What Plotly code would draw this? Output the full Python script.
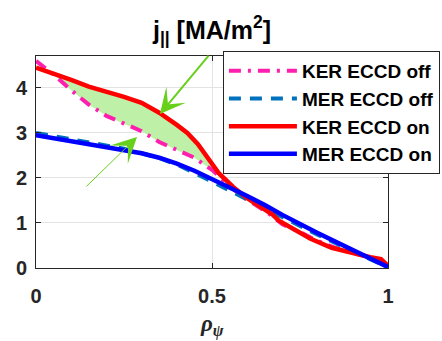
import plotly.graph_objects as go

# ---- data ----
rho_ker_on = [0.0, 0.05, 0.1, 0.15, 0.21, 0.25, 0.3, 0.35, 0.4, 0.43, 0.46, 0.49, 0.52, 0.56,
              0.6, 0.64, 0.67, 0.69, 0.72, 0.78, 0.84, 0.9, 0.95, 0.98, 1.0]
j_ker_on = [4.45, 4.32, 4.18, 4.03, 3.9, 3.8, 3.67, 3.45, 3.18, 3.0, 2.75, 2.42, 2.1, 1.8,
            1.55, 1.35, 1.2, 1.05, 0.92, 0.65, 0.45, 0.33, 0.24, 0.2, 0.05]

rho_ker_off = [0.0, 0.05, 0.1, 0.15, 0.2, 0.25, 0.3, 0.35, 0.4, 0.45, 0.5, 0.54, 0.58, 0.62,
               0.66, 0.7, 0.75, 0.8, 0.85, 0.9, 0.95, 0.98, 1.0]
j_ker_off = [4.6, 4.3, 3.95, 3.63, 3.38, 3.2, 3.04, 2.8, 2.62, 2.45, 2.18, 1.9, 1.62, 1.42,
             1.22, 0.97, 0.8, 0.6, 0.45, 0.33, 0.24, 0.18, 0.05]

rho_mer = [0.0, 0.1, 0.2, 0.25, 0.3, 0.35, 0.4, 0.45, 0.5, 0.55, 0.6, 0.65, 0.7, 0.8, 0.9, 1.0]
j_mer_on = [2.95, 2.82, 2.7, 2.64, 2.55, 2.45, 2.32, 2.16, 1.98, 1.8, 1.6, 1.4, 1.18, 0.78, 0.39, 0.02]
j_mer_off = [3.0, 2.86, 2.72, 2.65, 2.55, 2.44, 2.3, 2.12, 1.92, 1.72, 1.52, 1.33, 1.12, 0.74, 0.37, 0.02]

names = ["KER ECCD off", "MER ECCD off", "KER ECCD on", "MER ECCD on"]
fill_lo, fill_hi = 0.04, 0.56

x_ticks = [0, 0.5, 1]
x_labels = ["0", "0.5", "1"]
y_ticks = [0, 1, 2, 3, 4]

FONT = "Liberation Sans, Arial, sans-serif"
GREEN = "#66d01a"

fig = go.Figure()

# shaded region between KER on and KER off
fx_top = [r for r in rho_ker_on if fill_lo <= r <= fill_hi]
fy_top = [v for r, v in zip(rho_ker_on, j_ker_on) if fill_lo <= r <= fill_hi]
fx_bot = [r for r in rho_ker_off if fill_lo <= r <= fill_hi]
fy_bot = [v for r, v in zip(rho_ker_off, j_ker_off) if fill_lo <= r <= fill_hi]
fig.add_trace(go.Scatter(x=fx_top + fx_bot[::-1], y=fy_top + fy_bot[::-1],
                         fill="toself", fillcolor="#bff0a8", line=dict(width=0),
                         mode="lines", showlegend=False, hoverinfo="skip"))

fig.add_trace(go.Scatter(x=rho_ker_off, y=j_ker_off, name=names[0], mode="lines",
                         legendgroup="a",
                         line=dict(color="#ff1fae", width=4, dash="12px,7px,3px,7px")))
fig.add_trace(go.Scatter(x=rho_mer, y=j_mer_off, name=names[1], mode="lines",
                         legendgroup="b",
                         line=dict(color="#0072bd", width=4, dash="12px,9px")))
fig.add_trace(go.Scatter(x=rho_ker_on, y=j_ker_on, name=names[2], mode="lines",
                         legendgroup="c",
                         line=dict(color="#ff0000", width=4.5)))
fig.add_trace(go.Scatter(x=rho_mer, y=j_mer_on, name=names[3], mode="lines",
                         legendgroup="d",
                         line=dict(color="#0000ff", width=4.5)))

# arrows
fig.add_annotation(x=0.352, y=3.42, ax=0.494, ay=4.75, xref="x", yref="y", axref="x", ayref="y",
                   showarrow=True, arrowhead=3, arrowwidth=2, arrowsize=2.1,
                   arrowcolor=GREEN, text="")
fig.add_annotation(x=0.287, y=2.91, ax=0.139, ay=1.78, xref="x", yref="y", axref="x", ayref="y",
                   showarrow=True, arrowhead=3, arrowwidth=1, arrowsize=4.2,
                   arrowcolor=GREEN, text="")

# x-axis title
fig.add_annotation(x=0.5, y=-0.27, xref="paper", yref="paper", showarrow=False,
                   text="<b><i>ρ<sub>ψ</sub></i></b>", yanchor="middle",
                   font=dict(family="Liberation Serif, Times New Roman, serif", size=23, color="#262626"))

axis_common = dict(showline=True, linecolor="#262626", linewidth=1, mirror="allticks",
                   ticks="inside", ticklen=5, tickcolor="#262626",
                   showgrid=True, gridcolor="#e3e3e3", gridwidth=1, zeroline=False,
                   tickfont=dict(family=FONT, size=20, color="#262626", weight="bold"))

fig.update_xaxes(range=[0, 1], tickvals=x_ticks, ticktext=x_labels, ticklabelstandoff=10,
                 **axis_common)
fig.update_yaxes(range=[0, 4.71], tickvals=y_ticks, ticklabelstandoff=4, **axis_common)

fig.update_layout(
    width=442, height=341,
    margin=dict(l=36, r=54, t=56, b=73, autoexpand=False),
    paper_bgcolor="white", plot_bgcolor="white",
    title=dict(text="<b>j<sub>||</sub> [MA/m<sup>2</sup>]</b>", x=212 / 442, xanchor="center",
               y=1 - 30 / 341, yanchor="middle",
               font=dict(family=FONT, size=25, color="#000000")),
    legend=dict(x=0.531, y=1.024, xanchor="left", yanchor="top",
                bgcolor="white", bordercolor="#262626", borderwidth=1,
                font=dict(family=FONT, size=19, color="#000000", weight="bold"),
                traceorder="grouped", tracegroupgap=0, itemwidth=68),
    showlegend=True,
)

fig.write_html("out.html")
